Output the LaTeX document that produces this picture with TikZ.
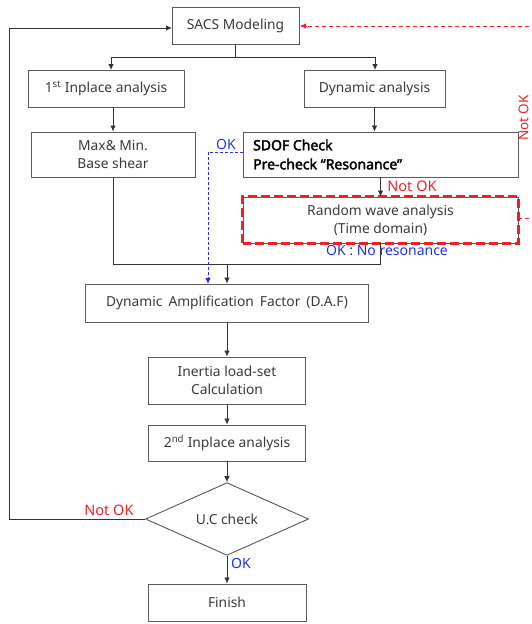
\documentclass[tikz,border=0pt]{standalone}
\usepackage{fontspec}
\setmainfont{Noto Sans}
\newfontfamily\boldsans{Noto Sans}[FakeBold=2.5]
\usetikzlibrary{arrows.meta,shapes.geometric}
\definecolor{boxline}{HTML}{5A5A5A}
\definecolor{txt}{HTML}{3A3A3A}
\definecolor{lblred}{HTML}{F02020}
\definecolor{lblblue}{HTML}{2030F0}
\tikzset{
  box/.style={draw=boxline, line width=0.9pt, rectangle, inner sep=0pt, align=center, text=txt, font=\fontsize{13.8}{18}\selectfont},
  arr/.style={draw=black!80, line width=0.8pt, -{Latex[length=6pt,width=5.5pt]}},
  ln/.style={draw=black!80, line width=0.8pt},
  bluedash/.style={draw=lblblue, line width=0.8pt, dash pattern=on 3pt off 2pt, -{Latex[length=6pt,width=5.5pt]}},
  reddash/.style={draw=lblred, line width=0.8pt, dash pattern=on 4pt off 3pt},
  redlbl/.style={text=lblred, font=\fontsize{14.5}{17}\selectfont, inner sep=0pt},
  bluelbl/.style={text=lblblue, font=\fontsize{14}{17}\selectfont, inner sep=0pt},
}
\begin{document}
\begin{tikzpicture}[x=1pt,y=-1pt]
\useasboundingbox (0,0) rectangle (531,624);
% boxes
\node[box, minimum width=127pt, minimum height=37pt] (sacs) at (235.5,25.5) {SACS Modeling};
\node[box, minimum width=156pt, minimum height=37pt] (inp1) at (106,88.5) {1\textsuperscript{st} Inplace analysis};
\node[box, minimum width=141pt, minimum height=37pt] (dyn) at (374.5,88.5) {Dynamic analysis};
\node[box, minimum width=164pt, minimum height=45pt] (maxmin) at (113,154.5) {Max\& Min.\\Base shear};
\node[box, minimum width=275pt, minimum height=45pt] (sdof) at (380.5,154.5) {};
\node[anchor=west, align=left, inner sep=0pt, text=black, font=\boldsans\fontsize{14}{19}\selectfont] (sdoft) at (253,154.5) {SDOF Check\\Pre-check \textquotedblleft Resonance\textquotedblright};
\node[box, minimum width=275pt, minimum height=46pt] (rwa) at (380.5,220) {Random wave analysis\\(Time domain)};
\draw[draw=lblred, line width=2.2pt, dash pattern=on 9pt off 4pt] (rwa.south west) rectangle (rwa.north east);
\node[box, minimum width=283pt, minimum height=38pt] (daf) at (227,303) {\spaceskip=6pt plus 1pt\relax Dynamic Amplification Factor (D.A.F)};
\node[box, minimum width=157pt, minimum height=47pt] (inert) at (227,380.5) {Inertia load-set\\Calculation};
\node[box, minimum width=157pt, minimum height=36pt] (inp2) at (227,443) {2\textsuperscript{nd} Inplace analysis};
\node[box, shape=diamond, minimum width=163pt, minimum height=54pt] (uc) at (227,519) {U.C check};
\node[box, minimum width=158pt, minimum height=37pt] (fin) at (227,602.5) {Finish};
% coordinates
\coordinate (split) at (235.5,57);
\coordinate (i1top) at (111,70);
\coordinate (dytop) at (375,70);
\coordinate (joinL) at (113,264);
\coordinate (joinR) at (380.5,264);
\coordinate (joinM) at (227,264);
\coordinate (okcorner) at (208,152);
\coordinate (oktip) at (208,284);
\coordinate (loopBL) at (9,519);
\coordinate (loopTL) at (9,28);
\coordinate (sacsin) at (172,28);
\coordinate (redR) at (536,218);
\coordinate (redTR) at (536,26);
\coordinate (sacsred) at (300,26);
\coordinate (redarrst) at (306,26);
% connectors
\draw[ln] (sacs.south) -- (split);
\draw[arr] (split) -| (i1top);
\draw[arr] (split) -| (dytop);
\draw[arr] (maxmin.north |- inp1.south) -- (maxmin.north);
\draw[arr] (dyn.south) -- (dyn.south |- sdof.north);
\draw[arr] (sdof.south) -- (rwa.north);
\draw[ln] (maxmin.south) -- (joinL) -- (joinR) -- (rwa.south);
\draw[arr] (joinM) -- (daf.north -| joinM);
\draw[bluedash] (sdof.west |- okcorner) -- (okcorner) -- (oktip);
\draw[arr] (daf.south) -- (inert.north);
\draw[arr] (inert.south) -- (inp2.north);
\draw[arr] (inp2.south) -- (uc.north);
\draw[arr] (uc.south) -- (fin.north);
\draw[ln] (uc.west) -- (loopBL) -- (loopTL);
\draw[arr] (loopTL) -- (sacsin);
\draw[reddash] (rwa.east |- redR) -- (redR) -- (redTR) -- (sacsred);
\draw[draw=lblred, line width=0.8pt, -{Latex[length=6pt,width=5.5pt]}] (redarrst) -- (sacsred);
% labels
\node[redlbl] (nok1) at (412,186) {Not OK};
\node[redlbl, rotate=90, font=\fontsize{13.5}{16}\selectfont] (nok2) at (523.5,118) {Not OK};
\node[bluelbl] (ok1) at (226,144) {OK};
\node[bluelbl] (ok2) at (387,251) {OK : No resonance};
\node[redlbl] (nok3) at (109,510) {Not OK};
\node[bluelbl] (ok3) at (241,563) {OK};
\end{tikzpicture}
\end{document}
